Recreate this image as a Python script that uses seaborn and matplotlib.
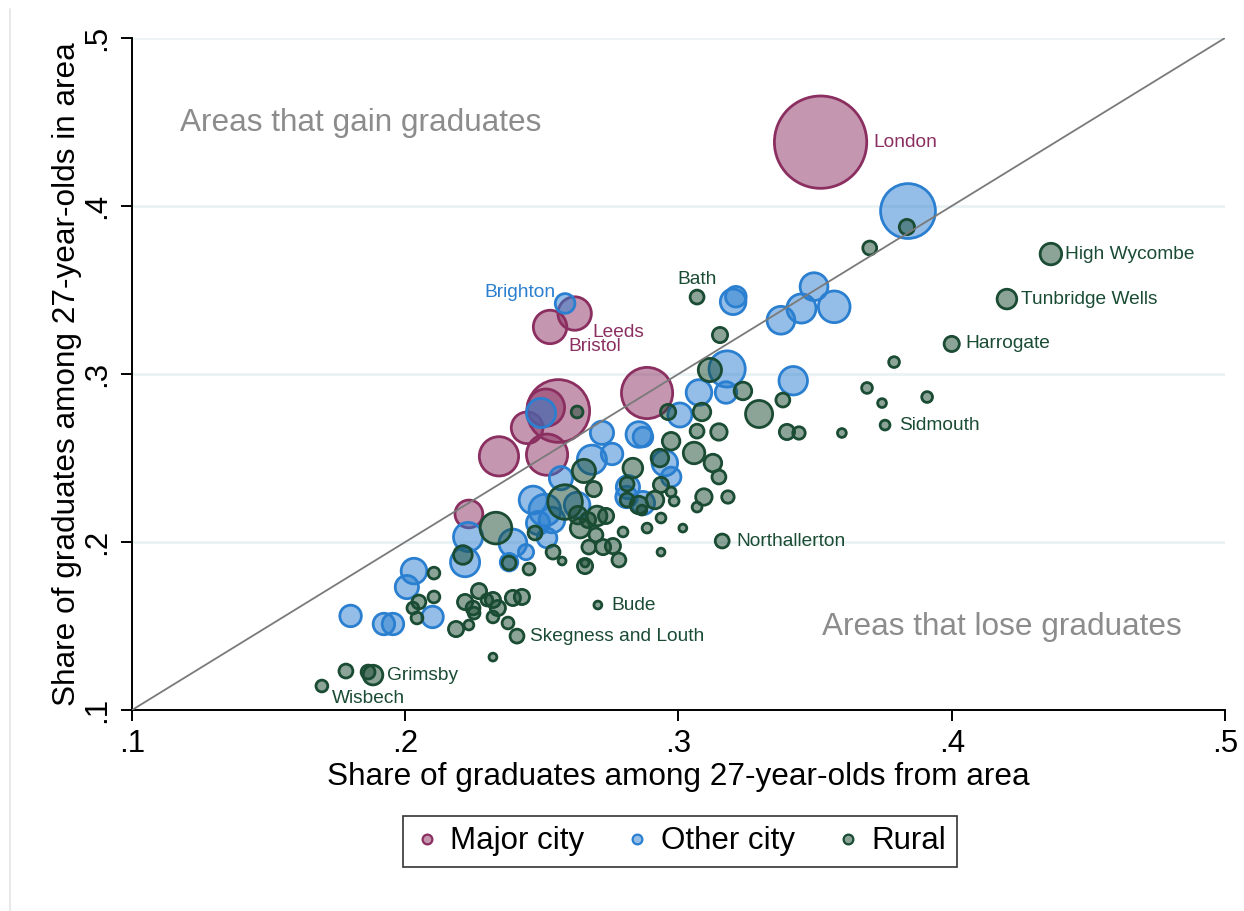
import matplotlib
matplotlib.use("Agg")
import matplotlib.pyplot as plt
from matplotlib.lines import Line2D
import seaborn as sns
import pandas as pd
import numpy as np

# share of graduates among 27-year-olds: from area (x) vs living in area (y)
major_x = [0.352, 0.262, 0.253, 0.256, 0.2515, 0.2446, 0.2519, 0.2343, 0.2885, 0.2233]
major_y = [0.438, 0.336, 0.328, 0.278, 0.280, 0.268, 0.252, 0.251, 0.2887, 0.2167]
major_pop = [221, 29, 29, 102, 36, 26, 44, 40, 68, 20]
major_names = ["London", "Leeds", "Bristol", "", "", "", "", "", "", ""]

other_x = [0.384, 0.2585, 0.320, 0.321, 0.3375, 0.345, 0.3496, 0.357, 0.3178, 0.3174,
           0.3075, 0.342, 0.3005, 0.272, 0.2855, 0.287, 0.2757, 0.2683, 0.295, 0.2973,
           0.2815, 0.287, 0.281, 0.2497, 0.257, 0.2468, 0.2511, 0.2537, 0.2629, 0.2486,
           0.2394, 0.2442, 0.223, 0.2219, 0.2519, 0.238, 0.2032, 0.2006, 0.180, 0.1922,
           0.1955, 0.210]
other_y = [0.397, 0.342, 0.343, 0.346, 0.332, 0.339, 0.352, 0.340, 0.303, 0.289,
           0.289, 0.296, 0.2756, 0.265, 0.264, 0.2625, 0.2524, 0.249, 0.247, 0.2387,
           0.2327, 0.2232, 0.2268, 0.2768, 0.238, 0.225, 0.219, 0.2131, 0.222, 0.2113,
           0.1994, 0.194, 0.203, 0.188, 0.2024, 0.188, 0.1827, 0.1732, 0.156, 0.1512,
           0.1512, 0.1554]
other_pop = [78, 10, 17, 11, 20, 22, 20, 26, 34, 12,
             17, 21, 15, 14, 17, 10, 12, 22, 17, 10,
             14, 14, 12, 22, 14, 20, 26, 17, 17, 14,
             20, 6, 22, 22, 10, 8, 17, 14, 12, 12,
             12, 12]
other_names = ["", "Brighton"] + [""] * 40

rural_x = [0.4363, 0.4202, 0.400, 0.3756, 0.316, 0.2705, 0.2409, 0.1882, 0.1864, 0.1695,
           0.3068, 0.1783, 0.370, 0.3836, 0.3152, 0.3115, 0.3236, 0.3382, 0.3295, 0.3789,
           0.369, 0.391, 0.3745, 0.3598, 0.3397, 0.3441, 0.3148, 0.3126, 0.3148, 0.3181,
           0.3093, 0.3068, 0.3086, 0.2962, 0.2973, 0.3057, 0.2932, 0.2833, 0.2654, 0.269,
           0.2936, 0.2812, 0.2973, 0.2984, 0.2914, 0.2812, 0.2855, 0.2866, 0.3068, 0.2936,
           0.2885, 0.2797, 0.3016, 0.2585, 0.2632, 0.264, 0.2702, 0.2735, 0.2698, 0.2672,
           0.2724, 0.276, 0.2782, 0.2658, 0.2658, 0.2574, 0.2541, 0.2475, 0.2453, 0.2936,
           0.2332, 0.2211, 0.238, 0.2105, 0.2105, 0.205, 0.2028, 0.2043, 0.2186, 0.2233,
           0.2219, 0.227, 0.2248, 0.2252, 0.2299, 0.2321, 0.2339, 0.2321, 0.2376, 0.2394,
           0.2427, 0.2321, 0.2629, 0.2669]
rural_y = [0.3714, 0.3446, 0.3179, 0.2696, 0.2006, 0.1625, 0.144, 0.1208, 0.1226, 0.1143,
           0.3458, 0.1232, 0.375, 0.3875, 0.3232, 0.3024, 0.2899, 0.2845, 0.2762, 0.3071,
           0.2917, 0.2863, 0.2827, 0.2649, 0.2655, 0.2649, 0.2655, 0.247, 0.2387, 0.2268,
           0.2268, 0.266, 0.2774, 0.2774, 0.260, 0.253, 0.250, 0.244, 0.2423, 0.2315,
           0.234, 0.2345, 0.2298, 0.2244, 0.225, 0.225, 0.222, 0.219, 0.2208, 0.2143,
           0.2083, 0.206, 0.2083, 0.2238, 0.216, 0.2083, 0.2155, 0.2155, 0.2042, 0.197,
           0.197, 0.1976, 0.1893, 0.1857, 0.1875, 0.1887, 0.194, 0.2054, 0.1839, 0.194,
           0.2083, 0.1923, 0.1875, 0.1815, 0.1673, 0.1643, 0.1607, 0.1548, 0.1482, 0.1506,
           0.1643, 0.1708, 0.1607, 0.1577, 0.1655, 0.1655, 0.1607, 0.1554, 0.1518, 0.1667,
           0.1673, 0.1315, 0.2774, 0.2131]
rural_pop = [12, 10, 6, 2.5, 5, 1.6, 5, 10, 5, 3.6,
             5, 5, 5, 6, 6, 14, 8, 5, 19, 3,
             3, 3, 2, 2, 6, 4, 7, 8, 5, 4,
             7, 5, 8, 6, 8, 12, 8, 10, 14, 6,
             6, 5, 2.5, 2.5, 8, 5, 8, 2.5, 2.5, 2.5,
             2.5, 2.5, 1.6, 31, 8, 10, 10, 6, 5, 5,
             6, 6, 5, 6, 1.6, 1.6, 5, 5, 3.6, 1.6,
             26, 9, 5, 3.6, 3.6, 5, 3.6, 3.6, 6, 2.5,
             6, 6, 5, 3.6, 3.6, 6, 6, 3.6, 3.6, 6,
             6, 1.6, 3.6, 6]
rural_names = ["High Wycombe", "Tunbridge Wells", "Harrogate", "Sidmouth", "Northallerton",
               "Bude", "Skegness and Louth", "Grimsby", "", "Wisbech", "Bath"] + [""] * 83

groups = ["Major city", "Other city", "Rural"]
colors = ["#8b2f61", "#2a7fd0", "#1a4b33"]
tick_vals = [0.1, 0.2, 0.3, 0.4, 0.5]
tick_labels = [".1", ".2", ".3", ".4", ".5"]

df = pd.concat([
    pd.DataFrame({"x": major_x, "y": major_y, "pop": major_pop, "name": major_names, "group": groups[0]}),
    pd.DataFrame({"x": other_x, "y": other_y, "pop": other_pop, "name": other_names, "group": groups[1]}),
    pd.DataFrame({"x": rural_x, "y": rural_y, "pop": rural_pop, "name": rural_names, "group": groups[2]}),
], ignore_index=True)

sns.set_theme(style="white")
plt.rcParams["font.family"] = ["Liberation Sans", "DejaVu Sans"]
plt.rcParams["text.color"] = "black"
plt.rcParams["axes.labelcolor"] = "black"
plt.rcParams["xtick.color"] = "black"
plt.rcParams["ytick.color"] = "black"

fig = plt.figure(figsize=(12.44, 9.11), dpi=100)
ax = fig.add_axes([0.1061, 0.2206, 0.8786, 0.7377])

k = 20
pmin, pmax = df["pop"].min(), df["pop"].max()
sns.scatterplot(data=df, x="x", y="y", hue="group", hue_order=groups, palette=colors,
                size="pop", sizes=(k * pmin, k * pmax), size_norm=(pmin, pmax),
                legend=False, linewidth=2.0, ax=ax, zorder=3)

coll = ax.collections[-1]
fc = np.array(coll.get_facecolors())
ec = fc.copy()
ec[:, 3] = 1.0
fc[:, 3] = 0.5
coll.set_facecolors(fc)
coll.set_edgecolors(ec)

# 45 degree line
ax.plot([0.1, 0.5], [0.1, 0.5], color="#7a7a7a", lw=1.3, zorder=4)

ax.set_xlim(0.1, 0.5)
ax.set_ylim(0.1, 0.5)
ax.set_xticks(tick_vals)
ax.set_xticklabels(tick_labels)
ax.set_yticks(tick_vals)
ax.set_yticklabels(tick_labels, rotation=90, va="center")
ax.tick_params(axis="both", labelsize=22.5, length=8, width=1.4, direction="out",
               color="black", labelcolor="black", pad=6, bottom=True, left=True)
ax.grid(axis="y", color="#eaf2f3", lw=2)
ax.set_axisbelow(True)
sns.despine(ax=ax)
for s in ["left", "bottom"]:
    ax.spines[s].set_color("black")
    ax.spines[s].set_linewidth(1.4)

ax.set_xlabel("Share of graduates among 27-year-olds from area", fontsize=22.7)
ax.set_ylabel("Share of graduates among 27-year-olds in area", fontsize=22.7)
ax.xaxis.set_label_coords(0.5, -0.078)
ax.yaxis.set_label_coords(-0.046, 0.5)

# point labels
offsets = {
    "London": (38, 0, "left"),
    "Brighton": (-7, 8, "right"),
    "Leeds": (13, -14, "left"),
    "Bristol": (13, -14, "left"),
    "Bath": (0, 13, "center"),
    "High Wycombe": (10, 0, "left"),
    "Tunbridge Wells": (10, 0, "left"),
    "Harrogate": (9.5, 0, "left"),
    "Sidmouth": (10, 0, "left"),
    "Northallerton": (10, 0, "left"),
    "Bude": (10, 0, "left"),
    "Skegness and Louth": (9.5, 0, "left"),
    "Grimsby": (10, 0, "left"),
    "Wisbech": (7, -9, "left"),
}
color_of = dict(zip(groups, colors))
for _, r in df[df["name"] != ""].iterrows():
    dx, dy, ha = offsets[r["name"]]
    ax.annotate(r["name"], (r["x"], r["y"]), xytext=(dx, dy), textcoords="offset points",
                ha=ha, va="center", fontsize=13.8, color=color_of[r["group"]], zorder=5)

ax.text(0.1176, 0.4494, "Areas that gain graduates", fontsize=22.7, color="#8c8c8c",
        ha="left", va="center")
ax.text(0.4843, 0.1494, "Areas that lose graduates", fontsize=22.7, color="#8c8c8c",
        ha="right", va="center")

handles = [Line2D([], [], marker="o", ls="", markersize=7, markeredgewidth=1.6,
                  markerfacecolor=c + "80", markeredgecolor=c) for c in colors]
leg = fig.legend(handles, groups, loc="center", bbox_to_anchor=(0.5466, 0.0763), ncol=3,
                 fontsize=22.5, frameon=True, fancybox=False, edgecolor="black",
                 handletextpad=0.35, columnspacing=1.3, borderpad=0.35, handlelength=0.8,
                 borderaxespad=0, labelcolor="black")
leg.get_frame().set_linewidth(1.2)

# faint outer border on the left
fig.add_artist(Line2D([10 / 1244, 10 / 1244], [0, 0.99], color="#e4e4e4", lw=1.2))

fig.savefig("out.png", dpi=100)
